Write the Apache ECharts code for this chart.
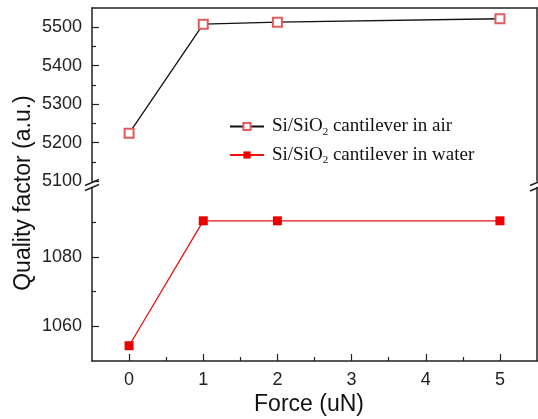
<!DOCTYPE html>
<html>
<head>
<meta charset="utf-8">
<script src="https://cdn.jsdelivr.net/npm/echarts@6/dist/echarts.min.js"></script>
<style>
  html, body { margin: 0; padding: 0; background: #fff; }
  #main { width: 538px; height: 419px; }
</style>
</head>
<body>
<div id="main"></div>
<script>
// data
var forceValues = [0, 1, 2, 5];
var airQ = [5224, 5508, 5513, 5522];
var waterQ = [1054.4, 1090.4, 1090.4, 1090.4];

var xMajor = [0, 1, 2, 3, 4, 5];
var xMinor = [0.5, 1.5, 2.5, 3.5, 4.5];
var airMajor = [5100, 5200, 5300, 5400, 5500];
var airMinor = [5150, 5250, 5350, 5450];
var waterMajor = [1060, 1080];
var waterMinor = [1070, 1090];

var seriesNames = ['Si/SiO2 cantilever in air', 'Si/SiO2 cantilever in water'];

function pairs(xs, ys) {
    var out = [];
    for (var i = 0; i < xs.length; i++) out.push([xs[i], ys[i]]);
    return out;
}

var axisColor = '#222';
var tickFont = { fontFamily: 'Liberation Sans', fontSize: 18, color: '#222' };

// main axis (labels + long ticks)
function mainAxis(extra, major) {
    var a = {
        type: 'value',
        scale: true,
        splitLine: { show: false },
        axisLine: { show: true, onZero: false, lineStyle: { color: axisColor, width: 1.5 } },
        axisTick: { show: true, inside: true, length: 7, customValues: major, lineStyle: { color: axisColor, width: 1.2 } },
        axisLabel: Object.assign({
            show: true, margin: 10, customValues: major,
            formatter: function (v) { return String(v); }
        }, tickFont)
    };
    return Object.assign(a, extra);
}
// overlay axis only for short minor ticks
function minorAxis(extra, minor) {
    var a = {
        type: 'value',
        scale: true,
        splitLine: { show: false },
        axisLine: { show: false, onZero: false },
        axisTick: { show: true, inside: true, length: 4, customValues: minor, lineStyle: { color: axisColor, width: 1.2 } },
        axisLabel: { show: false }
    };
    return Object.assign(a, extra);
}
// border axis (line only)
function borderAxis(extra) {
    var a = {
        type: 'value',
        scale: true,
        splitLine: { show: false },
        axisLine: { show: true, onZero: false, lineStyle: { color: axisColor, width: 1.5 } },
        axisTick: { show: false },
        axisLabel: { show: false }
    };
    return Object.assign(a, extra);
}

var myChart = echarts.init(document.getElementById('main'));

var option = {
    backgroundColor: '#fff',
    animation: false,
    grid: [
        { left: 92, right: 1, top: 8, height: 173 },
        { left: 92, right: 1, top: 187.5, height: 173.5 }
    ],
    xAxis: [
        borderAxis({ gridIndex: 0, position: 'top', min: -0.5, max: 5.5 }),
        mainAxis({ gridIndex: 1, position: 'bottom', min: -0.5, max: 5.5 }, xMajor),
        minorAxis({ gridIndex: 1, position: 'bottom', min: -0.5, max: 5.5 }, xMinor)
    ],
    yAxis: [
        mainAxis({ gridIndex: 0, position: 'left', min: 5100, max: 5550 }, airMajor),
        minorAxis({ gridIndex: 0, position: 'left', min: 5100, max: 5550 }, airMinor),
        borderAxis({ gridIndex: 0, position: 'right', min: 5100, max: 5550 }),
        mainAxis({ gridIndex: 1, position: 'left', min: 1050, max: 1100 }, waterMajor),
        minorAxis({ gridIndex: 1, position: 'left', min: 1050, max: 1100 }, waterMinor),
        borderAxis({ gridIndex: 1, position: 'right', min: 1050, max: 1100 })
    ],
    legend: {
        orient: 'vertical',
        left: 224,
        top: 112,
        itemWidth: 34,
        itemHeight: 9,
        itemGap: 8,
        data: seriesNames,
        formatter: function (name) {
            return '{a|Si/SiO}{s|2}{a|' + name.replace('Si/SiO2', '') + '}';
        },
        textStyle: {
            padding: [0, 0, 0, 3],
            rich: {
                a: { fontFamily: 'Liberation Serif', fontSize: 19, color: '#111', lineHeight: 22, verticalAlign: 'middle' },
                s: { fontFamily: 'Liberation Serif', fontSize: 11, color: '#111', lineHeight: 10, verticalAlign: 'bottom' }
            }
        }
    },
    series: [
        {
            name: seriesNames[0],
            type: 'line',
            xAxisIndex: 0,
            yAxisIndex: 0,
            symbol: 'emptyRect',
            symbolSize: 9,
            lineStyle: { color: '#111', width: 1.3 },
            itemStyle: { color: '#e25a5a', borderWidth: 1.2 },
            data: pairs(forceValues, airQ)
        },
        {
            name: seriesNames[1],
            type: 'line',
            xAxisIndex: 1,
            yAxisIndex: 3,
            symbol: 'rect',
            symbolSize: 9,
            lineStyle: { color: '#ee1111', width: 1.3 },
            itemStyle: { color: '#ee0000' },
            data: pairs(forceValues, waterQ)
        }
    ],
    graphic: [
        // axis titles
        {
            type: 'text', rotation: Math.PI / 2,
            x: 24, y: 193,
            style: { text: 'Quality factor (a.u.)', fontFamily: 'Liberation Sans', fontSize: 23, fill: '#111', align: 'center', verticalAlign: 'middle' }
        },
        {
            type: 'text',
            x: 309, y: 405,
            style: { text: 'Force (uN)', fontFamily: 'Liberation Sans', fontSize: 23, fill: '#111', align: 'center', verticalAlign: 'middle' }
        },
        // break marks, left
        { type: 'line', shape: { x1: 85, y1: 185.5, x2: 99, y2: 179.5 }, style: { stroke: axisColor, lineWidth: 1.5 } },
        { type: 'line', shape: { x1: 85, y1: 190.5, x2: 99, y2: 184.5 }, style: { stroke: axisColor, lineWidth: 1.5 } },
        // break marks, right
        { type: 'line', shape: { x1: 530, y1: 185.5, x2: 544, y2: 179.5 }, style: { stroke: axisColor, lineWidth: 1.5 } },
        { type: 'line', shape: { x1: 530, y1: 191, x2: 544, y2: 185 }, style: { stroke: axisColor, lineWidth: 1.5 } }
    ]
};

myChart.setOption(option);
</script>
</body>
</html>
